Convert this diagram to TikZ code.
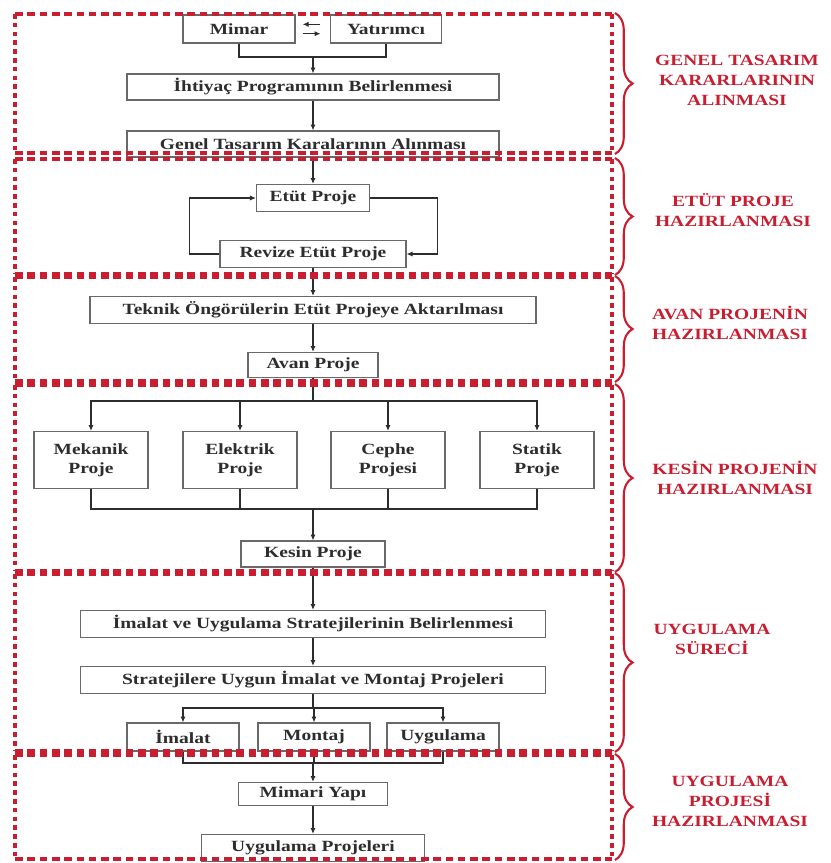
\documentclass[tikz,border=0pt]{standalone}
\usepackage{fontspec}
\setmainfont{Liberation Serif}[FakeStretch=1.25]
\usetikzlibrary{arrows.meta,decorations.pathreplacing}

\definecolor{kirmizi}{RGB}{200,30,48}
\definecolor{kutugri}{RGB}{105,105,105}
\definecolor{yazigri}{RGB}{45,45,45}

\tikzset{
	kutu/.style={draw=kutugri, line width=1.1pt, fill=white, text=yazigri, inner sep=1pt,
		minimum width=#1, minimum height=0.78cm, align=center,
		font=\bfseries\fontsize{13.3}{16}\selectfont},
	hat/.style={draw=yazigri, line width=0.9pt},
	ok/.style={hat, -{Latex[length=5pt,width=4.5pt]}},
	bolumyatay/.style={draw=kirmizi, line width=3.2pt, dash pattern=on 6.5pt off 4pt},
	bolumdikey/.style={draw=kirmizi, line width=2.6pt, dash pattern=on 4pt off 3.5pt},
	parantez/.style={draw=kirmizi, line width=1.8pt, decorate, decoration={brace, amplitude=15pt}},
	etiket/.style={text=kirmizi, align=center, font=\bfseries\fontsize{13.3}{17}\selectfont}
}

\begin{document}
\begin{tikzpicture}[x=0.03cm, y=-0.03cm]
	\useasboundingbox (0,0) rectangle (830,863);
	
	%boxes - genel tasarim
	\node[kutu=3.36cm, minimum height=0.84cm] (mimar) at (239,29) {Mimar};
	\node[kutu=3.33cm, minimum height=0.84cm] (yatirimci) at (386,29) {Yatırımcı};
	\node[kutu=11.16cm] (ihtiyac) at (313,87) {İhtiyaç Programının Belirlenmesi};
	\node[kutu=11.16cm] (genel) at (313,144) {Genel Tasarım Karalarının Alınması};
	%
	\node[kutu=3.39cm, minimum height=0.81cm] (etut) at (313,198) {Etüt Proje};
	\node[kutu=5.58cm, minimum height=0.81cm] (revize) at (313,254) {Revize Etüt Proje};
	%
	\node[kutu=13.38cm, minimum height=0.81cm] (teknik) at (313,310) {Teknik Öngörülerin Etüt Projeye Aktarılması};
	\node[kutu=3.9cm, minimum height=0.75cm] (avan) at (313,365) {Avan Proje};
	%
	\node[kutu=3.42cm, minimum height=1.71cm] (mekanik) at (91,460) {Mekanik\\Proje};
	\node[kutu=3.42cm, minimum height=1.71cm] (elektrik) at (240,460) {Elektrik\\Proje};
	\node[kutu=3.42cm, minimum height=1.71cm] (cephe) at (388,460) {Cephe\\Projesi};
	\node[kutu=3.42cm, minimum height=1.71cm] (statik) at (537,460) {Statik\\Proje};
	\node[kutu=4.32cm] (kesin) at (313,554) {Kesin Proje};
	%
	\node[kutu=13.95cm, minimum height=0.81cm] (imalatstr) at (313,624) {İmalat ve Uygulama Stratejilerinin Belirlenmesi};
	\node[kutu=13.95cm, minimum height=0.81cm] (stratejiler) at (313,680) {Stratejilere Uygun İmalat ve Montaj Projeleri};
	\node[kutu=3.36cm, minimum height=0.84cm] (imalat) at (183,737) {İmalat};
	\node[kutu=3.36cm, minimum height=0.84cm] (montaj) at (314,737) {Montaj};
	\node[kutu=3.36cm, minimum height=0.84cm] (uygulama) at (443,737) {Uygulama};
	%
	\node[kutu=4.47cm, minimum height=0.69cm] (mimari) at (313,794) {Mimari Yapı};
	\node[kutu=6.69cm, minimum height=0.81cm] (uygproje) at (313,848) {Uygulama Projeleri};
	
	%connectors
	\coordinate (ust1) at (313,57);
	\draw[hat] (mimar.south) |- (ust1) -| (yatirimci.south);
	\draw[ok] (ust1) -- (ihtiyac.north);
	\draw[ok] ([xshift=-8pt,yshift=4pt]yatirimci.west) -- ([xshift=6pt,yshift=4pt]mimar.east);
	\draw[ok] ([xshift=6pt,yshift=-4pt]mimar.east) -- ([xshift=-8pt,yshift=-4pt]yatirimci.west);
	\draw[ok] (ihtiyac) -- (genel);
	\draw[ok] (genel) -- (etut);
	\draw[ok] (revize.west) -- ++(-30,0) |- (etut.west);
	\draw[ok] (etut.east) -- ++(67,0) |- (revize.east);
	\draw[ok] (revize) -- (teknik);
	\draw[ok] (teknik) -- (avan);
	%
	\coordinate (ust4) at (313,401);
	\coordinate (alt4) at (313,509);
	\draw[hat] (avan) -- (ust4);
	\foreach \n in {mekanik,elektrik,cephe,statik}{
		\draw[ok] (ust4) -| (\n.north);
		\draw[hat] (\n.south) |- (alt4);
	}
	\draw[ok] (alt4) -- (kesin.north);
	\draw[ok] (kesin) -- (imalatstr);
	\draw[ok] (imalatstr) -- (stratejiler);
	%
	\coordinate (ust5) at (313,708);
	\coordinate (alt5) at (313,763);
	\draw[hat] (stratejiler) -- (ust5);
	\foreach \n in {imalat,montaj,uygulama}{
		\draw[ok] (ust5) -| (\n.north);
		\draw[hat] (\n.south) |- (alt5);
	}
	\draw[ok] (alt5) -- (mimari.north);
	\draw[ok] (mimari) -- (uygproje);
	
	%sections (top/bottom of each red frame)
	\foreach \ust/\alt in {14/153, 159/274, 277/381, 385/571, 574/751, 755/859}{
		\draw[bolumdikey] (15,\ust) -- (15,\alt) (612,\ust) -- (612,\alt);
		\draw[bolumyatay] (15,\ust) -- (612,\ust) (15,\alt) -- (612,\alt);
		\draw[parantez] (615,\ust-1) -- (615,\alt+1);
	}
	
	%labels
	\node[etiket] (lbl1) at (737,80) {GENEL TASARIM\\KARARLARININ\\ALINMASI};
	\node[etiket] (lbl2) at (733,210) {ETÜT PROJE\\HAZIRLANMASI};
	\node[etiket] (lbl3) at (730,323) {AVAN PROJENİN\\HAZIRLANMASI};
	\node[etiket] (lbl4) at (735,478) {KESİN PROJENİN\\HAZIRLANMASI};
	\node[etiket] (lbl5) at (712,639) {UYGULAMA\\SÜRECİ};
	\node[etiket] (lbl6) at (730,801) {UYGULAMA\\PROJESİ\\HAZIRLANMASI};
\end{tikzpicture}
\end{document}
